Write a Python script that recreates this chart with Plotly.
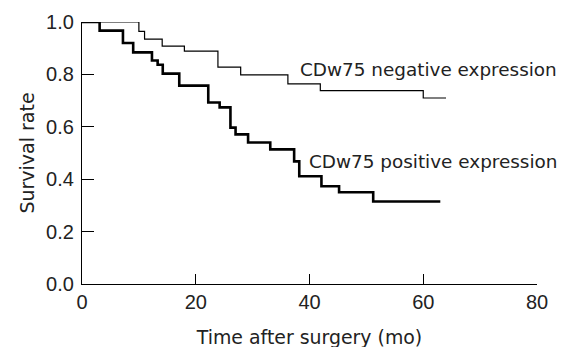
import plotly.graph_objects as go

# Kaplan-Meier step data (time in months, survival after each step)
neg_time = [0, 10.0, 11.0, 14.1, 18.0, 23.9, 27.9, 36.2, 41.9, 60.0, 64.0]
neg_surv = [1.0, 0.964, 0.935, 0.908, 0.889, 0.828, 0.798, 0.764, 0.738, 0.710, 0.710]

pos_time = [0, 3.1, 7.2, 9.0, 12.3, 13.3, 14.2, 17.1, 22.2, 24.2, 26.1, 27.0,
            29.2, 33.1, 37.3, 38.2, 42.1, 45.2, 51.2, 63.0]
pos_surv = [1.0, 0.967, 0.920, 0.884, 0.853, 0.837, 0.803, 0.757, 0.693, 0.674,
            0.597, 0.571, 0.540, 0.514, 0.468, 0.411, 0.373, 0.350, 0.315, 0.315]

x_ticks = [0, 20, 40, 60, 80]
y_ticks = [0.0, 0.2, 0.4, 0.6, 0.8, 1.0]

labels = ["CDw75 negative expression", "CDw75 positive expression"]
label_x = [38.0, 39.6]
label_y = [0.818, 0.467]

TEXT_FONT = "DejaVu Sans"
TICK_FONT = "Liberation Sans"

fig = go.Figure()
fig.add_trace(go.Scatter(x=neg_time, y=neg_surv, mode="lines",
                         line=dict(shape="hv", color="black", width=1.2),
                         showlegend=False, cliponaxis=False))
fig.add_trace(go.Scatter(x=pos_time, y=pos_surv, mode="lines",
                         line=dict(shape="hv", color="black", width=2.6),
                         showlegend=False, cliponaxis=False))

for t, xx, yy in zip(labels, label_x, label_y):
    fig.add_annotation(x=xx, y=yy, text=t, showarrow=False, xanchor="left",
                       yanchor="middle", font=dict(family=TEXT_FONT, size=18.4, color="#222"))

# the page body adds an 8px offset, so margins are reduced by 8 at left/top
fig.update_layout(
    width=567, height=347,
    margin=dict(l=74, r=38, t=14, b=71),
    paper_bgcolor="white", plot_bgcolor="white",
    xaxis=dict(range=[0, 80], tickvals=x_ticks, ticks="inside", ticklen=10,
               tickcolor="black", tickwidth=1.2, showline=True, linecolor="black",
               linewidth=1.2, showgrid=False, zeroline=False, automargin=False,
               tickfont=dict(family=TICK_FONT, size=20, color="#222"),
               title=dict(text="Time after surgery (mo)", standoff=18,
                          font=dict(family=TEXT_FONT, size=18.9, color="#222"))),
    yaxis=dict(range=[0, 1.0], tickvals=y_ticks, tickformat=".1f", ticks="inside",
               ticklen=12, tickcolor="black", tickwidth=1.2, showline=True,
               linecolor="black", linewidth=1.2, showgrid=False, zeroline=False,
               automargin=False,
               tickfont=dict(family=TICK_FONT, size=20, color="#222"),
               ticklabelstandoff=3,
               title=dict(text="Survival rate", standoff=6,
                          font=dict(family=TEXT_FONT, size=19, color="#222"))),
)

fig.write_html("out.html")
